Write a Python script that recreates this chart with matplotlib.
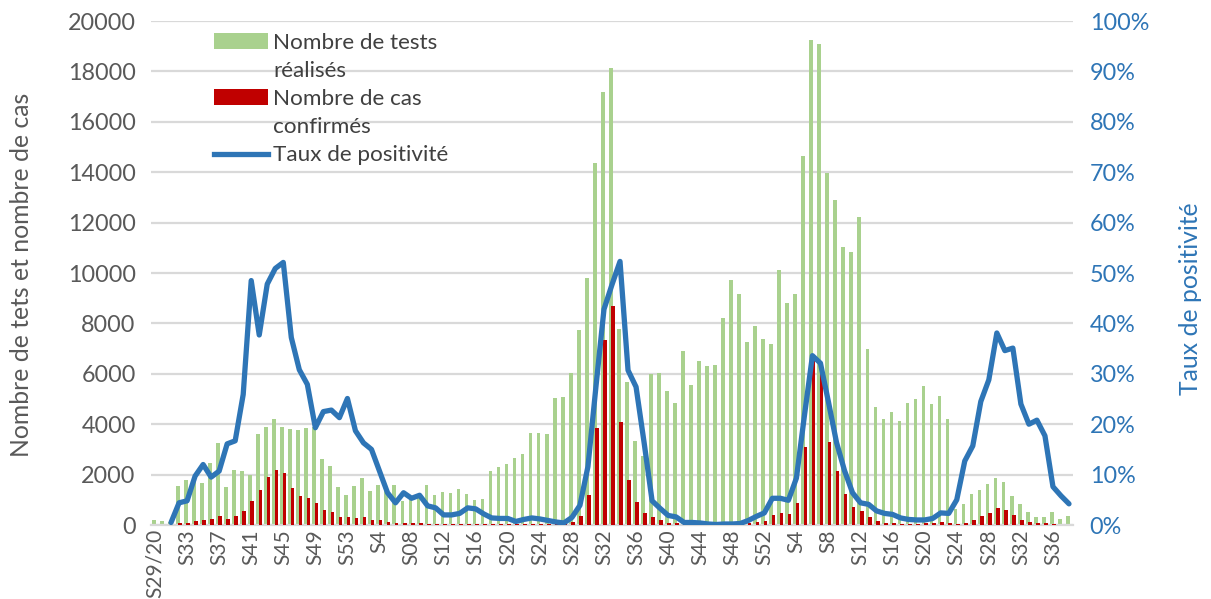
import numpy as np
import matplotlib
matplotlib.use("Agg")
import matplotlib.pyplot as plt
from matplotlib.patches import Patch
from matplotlib.lines import Line2D
from matplotlib.ticker import FuncFormatter, MultipleLocator

plt.rcParams['font.family'] = ['Lato', 'DejaVu Sans']

# weekly data, S29/2020 .. S38/2022 (115 weeks)
tests = [200, 150, 100, 1530, 1800, 1750, 1670, 2460, 3240, 1510,
         2170, 2150, 1970, 3600, 3900, 4200, 3890, 3820, 3770, 3840,
         3880, 2630, 2340, 1510, 1200, 1540, 1870, 1340, 1570, 1400,
         1580, 950, 1030, 1150, 1590, 1210, 1310, 1270, 1420, 1230,
         1010, 1030, 2150, 2290, 2430, 2650, 2810, 3640, 3660, 3630,
         5040, 5070, 6040, 7735, 9790, 14360, 17190, 18150, 7790, 5670,
         3320, 2740, 6000, 6030, 5310, 4860, 6920, 5560, 6490, 6290,
         6360, 8220, 9710, 9160, 7270, 7880, 7400, 7200, 10130, 8810,
         9180, 14660, 19230, 19070, 13970, 12900, 11030, 10820, 12210, 7000,
         4700, 4210, 4480, 4140, 4850, 5000, 5510, 4810, 5130, 4190,
         650, 820, 1220, 1390, 1620, 1860, 1720, 1150, 850, 520,
         330, 330, 520, 250, 360]

cases = [0, 0, 0, 66, 93, 172, 199, 238, 350, 252,
         375, 570, 970, 1380, 1920, 2175, 2050, 1460, 1170, 1065,
         855, 590, 535, 325, 305, 280, 305, 192, 180, 112,
         80, 60, 60, 60, 55, 45, 40, 35, 35, 35,
         30, 30, 30, 30, 35, 40, 40, 45, 50, 50,
         55, 80, 120, 340, 1200, 3850, 7340, 8700, 4080, 1770,
         900, 463, 300, 212, 95, 90, 40, 35, 30, 30,
         30, 35, 40, 50, 90, 119, 165, 390, 495, 430,
         875, 3080, 6600, 6200, 3290, 2135, 1240, 700, 537, 300,
         140, 80, 66, 55, 50, 50, 60, 80, 132, 93,
         53, 93, 185, 344, 464, 690, 596, 398, 185, 106,
         66, 66, 40, 15, 10]

positivity = [np.nan, np.nan, 0.5, 4.4, 4.8, 9.7, 12.0, 9.5, 10.7, 16.1,
              16.7, 25.9, 48.5, 37.7, 47.8, 50.9, 52.1, 37.2, 30.8, 27.9,
              19.3, 22.5, 22.8, 21.3, 25.1, 18.7, 16.3, 15.0, 10.7, 6.4,
              4.4, 6.4, 5.3, 5.9, 3.8, 3.4, 2.0, 2.0, 2.3, 3.4,
              3.2, 2.2, 1.4, 1.3, 1.3, 0.7, 1.1, 1.4, 1.2, 0.9,
              0.6, 0.4, 1.5, 3.9, 11.6, 27.5, 42.8, 47.7, 52.3, 30.7,
              27.4, 16.4, 4.8, 3.3, 1.9, 1.6, 0.5, 0.5, 0.4, 0.2,
              0.1, 0.2, 0.2, 0.3, 0.9, 1.7, 2.4, 5.3, 5.3, 4.9,
              9.3, 21.7, 33.6, 32.1, 24.4, 16.4, 10.8, 6.4, 4.4, 4.1,
              2.8, 2.3, 2.1, 1.4, 1.1, 1.0, 1.0, 1.3, 2.4, 2.3,
              5.0, 12.7, 15.7, 24.5, 28.8, 38.1, 34.6, 35.1, 24.0, 20.0,
              20.8, 17.7, 7.6, 5.8, 4.2]

tick_labels = ["S29/20", "S33", "S37", "S41", "S45", "S49", "S53", "S4", "S08",
               "S12", "S16", "S20", "S24", "S28", "S32", "S36", "S40", "S44",
               "S48", "S52", "S4", "S8", "S12", "S16", "S20", "S24", "S28",
               "S32", "S36"]

GREEN = "#a9d18e"
RED = "#c00000"
BLUE = "#2e75b6"
GREY = "#595959"
GRID = "#d9d9d9"

fig = plt.figure(figsize=(12.11, 5.99), dpi=100)
ax = fig.add_axes([151/1211, 1-525/599, (1073-151)/1211, (525-21)/599])
x = np.arange(len(tests))

ax.bar(x - 0.15, tests, width=0.46, color=GREEN, zorder=2)
ax.bar(x + 0.14, cases, width=0.46, color=RED, zorder=3)

ax.set_xlim(-0.5, len(tests) - 0.5)
ax.set_ylim(0, 20000)
ax.yaxis.set_major_locator(MultipleLocator(2000))
ax.grid(axis='y', color=GRID, linewidth=1.6, zorder=0)
ax.set_axisbelow(True)
for s in ['top', 'left', 'right']:
    ax.spines[s].set_visible(False)
ax.spines['bottom'].set_color(GRID)
ax.spines['bottom'].set_linewidth(1.6)

ax.set_xticks(x[::4][:len(tick_labels)])
ax.set_xticklabels(tick_labels, rotation=90, fontsize=15.0, color=GREY)
ax.tick_params(axis='x', length=0, pad=3)
ax.tick_params(axis='y', length=0, pad=11, labelsize=16.8, labelcolor=GREY)

ax2 = ax.twinx()
ax2.plot(x, np.array(positivity) / 100, color=BLUE, linewidth=3.8,
         solid_joinstyle='round', solid_capstyle='round', zorder=4)
ax2.set_ylim(0, 1)
ax2.yaxis.set_major_locator(MultipleLocator(0.1))
ax2.yaxis.set_major_formatter(FuncFormatter(lambda v, p: f"{v*100:.0f}%"))
ax2.tick_params(axis='y', length=0, pad=12, labelsize=16.8, labelcolor=BLUE)
for s in ['top', 'left', 'right', 'bottom']:
    ax2.spines[s].set_visible(False)

fig.text(22/1211, 1-275/599, "Nombre de tets et nombre de cas", rotation=90,
         ha='center', va='center', fontsize=17.8, color=GREY)
fig.text(1190/1211, 1-299/599, "Taux de positivité", rotation=90,
         ha='center', va='center', fontsize=17.8, color=BLUE)

blank = Patch(facecolor='none', edgecolor='none')
handles = [Patch(facecolor=GREEN), blank, Patch(facecolor=RED), blank,
           Line2D([], [], color=BLUE, linewidth=3.8)]
labels = ["Nombre de tests", "réalisés", "Nombre de cas", "confirmés",
          "Taux de positivité"]
leg = ax2.legend(handles, labels, loc='upper left',
                 bbox_to_anchor=((214-151)/922, (525-33)/504),
                 frameon=False, fontsize=16.2, handlelength=2.4,
                 handleheight=0.7, handletextpad=0.22, labelspacing=0.36,
                 borderaxespad=0, borderpad=0)
for t in leg.get_texts():
    t.set_color("#404040")

fig.savefig("out.png", dpi=100)
